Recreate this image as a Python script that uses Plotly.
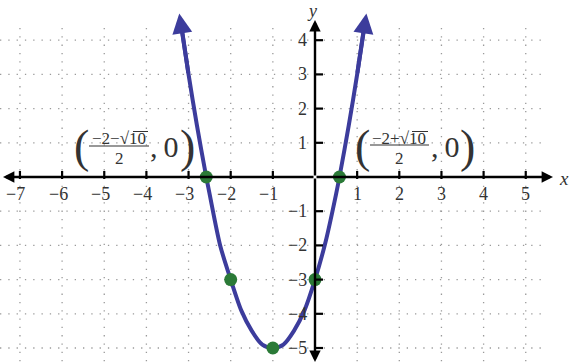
import plotly.graph_objects as go

# ---------------- data ----------------
curve_x = [-3.18, -3.0, -2.8, -2.58, -2.5, -2.25, -2.0, -1.75, -1.5, -1.25, -1.0,
           -0.75, -0.5, -0.25, 0.0, 0.25, 0.5, 0.58, 0.8, 1.0, 1.18]
curve_y = [4.5, 3.0, 1.5, 0.0, -0.5, -2.0, -3.0, -3.9, -4.5, -4.9, -5.0,
           -4.9, -4.5, -3.9, -3.0, -1.9, -0.5, 0.0, 1.5, 3.0, 4.5]
# arrow tips at the ends of the two arms
tip_x = [-3.22, 1.22]
tip_y = [4.78, 4.78]

pts_x = [-2.58, 0.58, -2.0, 0.0, -1.0]
pts_y = [0.0, 0.0, -3.0, -3.0, -5.0]

x_ticks = [-7, -6, -5, -4, -3, -2, -1, 1, 2, 3, 4, 5]
y_ticks = [-5, -4, -3, -2, -1, 1, 2, 3, 4]
x_tick_labels = ["\u22127", "\u22126", "\u22125", "\u22124", "\u22123", "\u22122", "\u22121",
                 "1", "2", "3", "4", "5"]
y_tick_labels = ["\u22125", "\u22124", "\u22123", "\u22122", "\u22121", "1", "2", "3", "4"]

# ---------------- layout helpers ----------------
W, H = 569, 363
X0PX, XSCALE = 315.0, 42.15   # pixel of x=0, pixels per unit
Y0PX, YSCALE = 177.0, 34.2    # pixel of y=0, pixels per unit


def px2x(p):
    return (p - X0PX) / XSCALE


def py2y(p):
    return (Y0PX - p) / YSCALE


x_range = [px2x(0), px2x(W)]
y_range = [py2y(H), py2y(0)]

CURVE = "#3c3c9c"
GREEN = "#2b7a37"
GRID = "#9a9a9a"
TXT = "#333333"
SERIF = "Liberation Serif"

fig = go.Figure()

shapes = []
# dotted grid
for xv in x_ticks:
    shapes.append(dict(type="line", xref="x", yref="y", x0=xv, x1=xv,
                       y0=py2y(28), y1=y_range[0],
                       line=dict(color=GRID, width=1.3, dash="1.3px,7px"), layer="below"))
for yv in y_ticks:
    shapes.append(dict(type="line", xref="x", yref="y", y0=yv, y1=yv,
                       x0=x_range[0], x1=px2x(545),
                       line=dict(color=GRID, width=1.3, dash="1.3px,7px"), layer="below"))
# tick marks
for xv in x_ticks:
    shapes.append(dict(type="line", xref="x", yref="y", ysizemode="pixel", yanchor=0,
                       x0=xv, x1=xv, y0=-2, y1=6, line=dict(color="black", width=2.2)))
for yv in y_ticks:
    shapes.append(dict(type="line", xref="x", yref="y", xsizemode="pixel", xanchor=0,
                       y0=yv, y1=yv, x0=0, x1=8, line=dict(color="black", width=2.2)))

annotations = []
# axes with arrowheads
for tail, head in [((0, 0), (px2x(553), 0)), ((0, 0), (px2x(3), 0)),
                   ((0, 0), (0, py2y(20))), ((0, 0), (0, py2y(362)))]:
    annotations.append(dict(x=head[0], y=head[1], ax=tail[0], ay=tail[1],
                            xref="x", yref="y", axref="x", ayref="y", text="",
                            showarrow=True, arrowhead=2, arrowsize=0.95,
                            arrowwidth=2.4, arrowcolor="black", standoff=0))

# curve end arrows
annotations.append(dict(x=tip_x[0], y=tip_y[0], ax=curve_x[1], ay=curve_y[1],
                        xref="x", yref="y", axref="x", ayref="y", text="",
                        showarrow=True, arrowhead=2, arrowsize=1.0, arrowwidth=4,
                        arrowcolor=CURVE, standoff=0))
annotations.append(dict(x=tip_x[1], y=tip_y[1], ax=curve_x[-2], ay=curve_y[-2],
                        xref="x", yref="y", axref="x", ayref="y", text="",
                        showarrow=True, arrowhead=2, arrowsize=1.0, arrowwidth=4,
                        arrowcolor=CURVE, standoff=0))

# tick labels
for xv, lab in zip(x_ticks, x_tick_labels):
    annotations.append(dict(x=xv, y=0, xref="x", yref="y", text=lab, showarrow=False,
                            xanchor="center", yanchor="middle", yshift=-17,
                            xshift=-4 if xv < 0 else 0,
                            font=dict(family=SERIF, size=18, color=TXT)))
for yv, lab in zip(y_ticks, y_tick_labels):
    annotations.append(dict(x=0, y=yv, xref="x", yref="y", text=lab, showarrow=False,
                            xanchor="right", yanchor="middle", xshift=-6,
                            font=dict(family=SERIF, size=18, color=TXT)))

# axis names
annotations.append(dict(x=px2x(564), y=py2y(178), xref="x", yref="y", text="<i>x</i>",
                        showarrow=False, font=dict(family=SERIF, size=19, color=TXT)))
annotations.append(dict(x=px2x(312), y=py2y(11), xref="x", yref="y", text="<i>y</i>",
                        showarrow=False, yanchor="middle", borderpad=0,
                        font=dict(family=SERIF, size=18, color=TXT)))


def point_label(paren_l, paren_r, num_c, num_txt, bar_l, bar_r, bar_y, comma_c, ovl):
    out = []
    for cx, s in [(paren_l, "("), (paren_r, ")")]:
        out.append(dict(x=px2x(cx), y=py2y(146), xref="x", yref="y", text=s,
                        showarrow=False, xanchor="center", yanchor="middle", borderpad=0,
                        font=dict(family=SERIF, size=46, color=TXT)))
    out.append(dict(x=px2x(num_c), y=py2y(138), xref="x", yref="y", text=num_txt,
                    showarrow=False, xanchor="center", yanchor="middle", borderpad=0,
                    font=dict(family=SERIF, size=17, color=TXT)))
    out.append(dict(x=px2x(num_c), y=py2y(158), xref="x", yref="y", text="2",
                    showarrow=False, xanchor="center", yanchor="middle", borderpad=0,
                    font=dict(family=SERIF, size=17, color=TXT)))
    out.append(dict(x=px2x(comma_c), y=py2y(146), xref="x", yref="y", text=",\u20090",
                    showarrow=False, xanchor="center", yanchor="middle", borderpad=0,
                    font=dict(family=SERIF, size=30, color=TXT)))
    sh = [dict(type="line", xref="x", yref="y", x0=px2x(bar_l), x1=px2x(bar_r),
               y0=py2y(bar_y), y1=py2y(bar_y), line=dict(color=TXT, width=1.2)),
          dict(type="line", xref="x", yref="y", x0=px2x(ovl[0]), x1=px2x(ovl[1]),
               y0=py2y(ovl[2]), y1=py2y(ovl[2]), line=dict(color=TXT, width=1))]
    return out, sh


a, s = point_label(81, 187, 119, "\u22122\u2212\u221a10", 89, 149, 146, 164, (133, 148, 131.5))
annotations += a
shapes += s
a, s = point_label(362, 467, 399, "\u22122+\u221a10", 370, 429, 145, 445, (412, 428, 131.5))
annotations += a
shapes += s

# curve and points
fig.add_trace(go.Scatter(x=curve_x, y=curve_y, mode="lines",
                         line=dict(color=CURVE, width=4, shape="spline", smoothing=0.8),
                         hoverinfo="skip"))
fig.add_trace(go.Scatter(x=pts_x, y=pts_y, mode="markers",
                         marker=dict(color=GREEN, size=13, line=dict(width=0))))

fig.update_layout(
    width=W, height=H, margin=dict(l=0, r=0, t=0, b=0),
    paper_bgcolor="white", plot_bgcolor="white", showlegend=False,
    xaxis=dict(range=x_range, visible=False, fixedrange=True),
    yaxis=dict(range=y_range, visible=False, fixedrange=True),
    shapes=shapes, annotations=annotations,
)

fig.write_html("out.html")
